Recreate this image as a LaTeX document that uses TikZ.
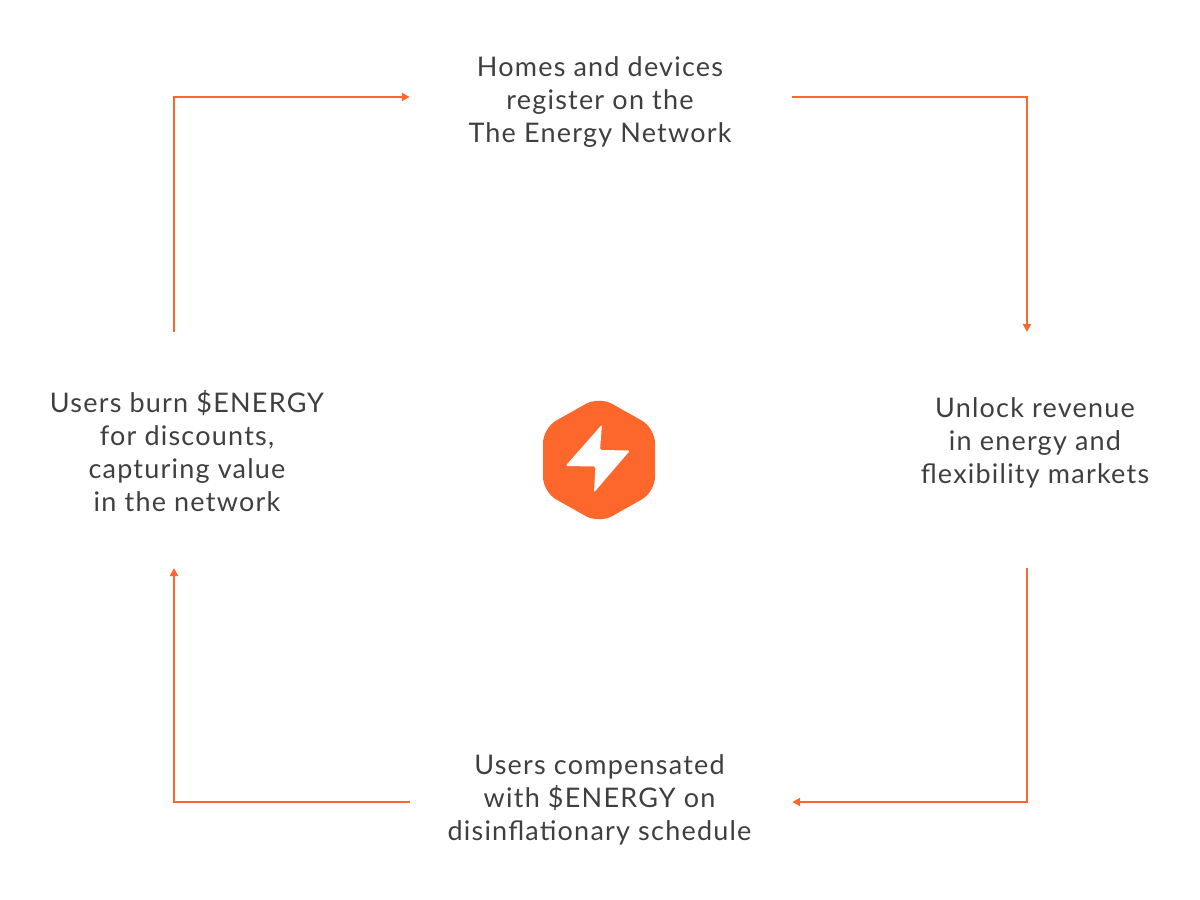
\documentclass[tikz,border=0pt]{standalone}
\usepackage{fontspec}
\usetikzlibrary{arrows.meta}
\setmainfont[LetterSpace=4.5]{Lato}
\definecolor{flame}{HTML}{FD672C}
\definecolor{ink}{HTML}{3F3F3F}
\tikzset{
  label/.style={text=ink,align=center,inner sep=0pt,font=\fontsize{27}{33}\selectfont},
  link/.style={draw=flame,line width=2pt,-{Triangle[length=8pt,width=8pt]}},
}
\begin{document}
\begin{tikzpicture}[x=1pt,y=-1pt]
\useasboundingbox (0,0) rectangle (1200,900);
\node[label,minimum width=382pt] (top) at (600,102.5) {Homes and devices\\register on the\\The Energy Network};
\node[label] (right) at (1035,443) {Unlock revenue\\in energy and\\flexibility markets};
\node[label,minimum width=382pt] (bottom) at (599.5,800) {Users compensated\\with \$ENERGY on\\disinflationary schedule};
\node[label] (left) at (187,451.5) {Users burn \$ENERGY\\for discounts,\\capturing value\\in the network};
\draw[link] ([yshift=5.5pt,xshift=1pt]top.east) -| (1027,332);
\draw[link] (1027,568) |- ([yshift=-2pt,xshift=1.5pt]bottom.east);
\draw[link] ([yshift=-2pt,xshift=1.5pt]bottom.west) -| (174,568);
\draw[link] (174,332) |- ([yshift=5.5pt,xshift=1pt]top.west);
\fill[flame,rounded corners=15pt] (599,396.5) -- (655,428) -- (655,492) -- (599,523.5) -- (543,492) -- (543,428) -- cycle;
\fill[white,rounded corners=1.5pt] (602,424.5) -- (600,450) -- (630,450.5) -- (594,492.5) -- (595.5,466.5) -- (565.5,466) -- cycle;
\end{tikzpicture}
\end{document}
